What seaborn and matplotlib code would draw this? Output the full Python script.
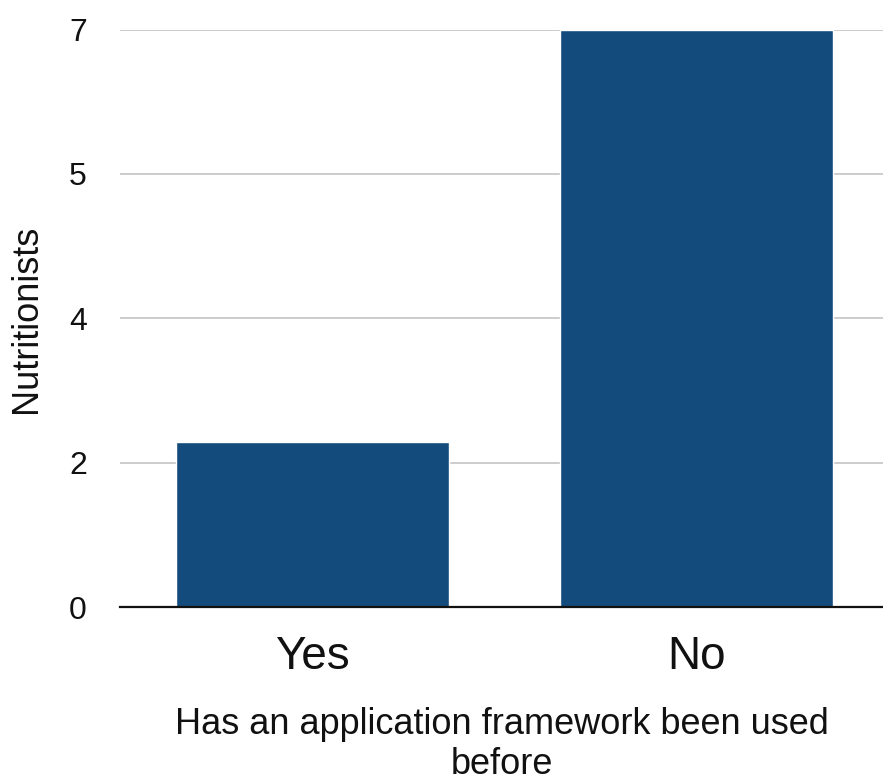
import matplotlib
matplotlib.use("Agg")
import matplotlib.pyplot as plt
import seaborn as sns
import pandas as pd

# Survey answers and counts
categories = ["Yes", "No"]
counts = [2, 7]

# Value axis: five evenly spaced gridlines between 0 and 7, labels rounded
y_ticks = [0, 1.75, 3.5, 5.25, 7]
y_tick_labels = ["0", "2", "4", "5", "7"]

x_title = "Has an application framework been used\nbefore"
y_title = "Nutritionists"

sns.set_theme(style="white")
plt.rcParams["font.family"] = ["Liberation Sans", "DejaVu Sans"]

df = pd.DataFrame({"answer": categories, "count": counts})

fig = plt.figure(figsize=(8.83, 7.81), dpi=100)
ax = fig.add_axes([0.1361, 0.2224, 0.8639, 0.7398])

sns.barplot(data=df, x="answer", y="count", color="#134b7c", saturation=1,
            width=0.711, ax=ax, zorder=3)

ax.set_ylim(0, 7)
ax.set_xlim(-0.5, 1.485)
ax.set_yticks(y_ticks)
ax.set_yticklabels(y_tick_labels)

ax.grid(axis="y", color="#cccccc", linewidth=1.4, zorder=0)
ax.grid(axis="x", visible=False)
for side in ["left", "right", "top"]:
    ax.spines[side].set_visible(False)
ax.spines["bottom"].set_color("#111111")
ax.spines["bottom"].set_linewidth(1.6)
ax.spines["bottom"].set_zorder(4)

ax.tick_params(axis="y", length=0, pad=24, labelsize=23, labelcolor="#111111")
ax.tick_params(axis="x", length=0, pad=20, labelsize=33, labelcolor="#111111")

ax.set_xlabel(x_title, fontsize=26, color="#111111", linespacing=1.18)
ax.xaxis.set_label_coords(0.5, -0.172)
ax.set_ylabel(y_title, fontsize=26, color="#111111")
ax.yaxis.set_label_coords(-0.1, 0.5)

fig.savefig("out.png", dpi=100, facecolor="white")
